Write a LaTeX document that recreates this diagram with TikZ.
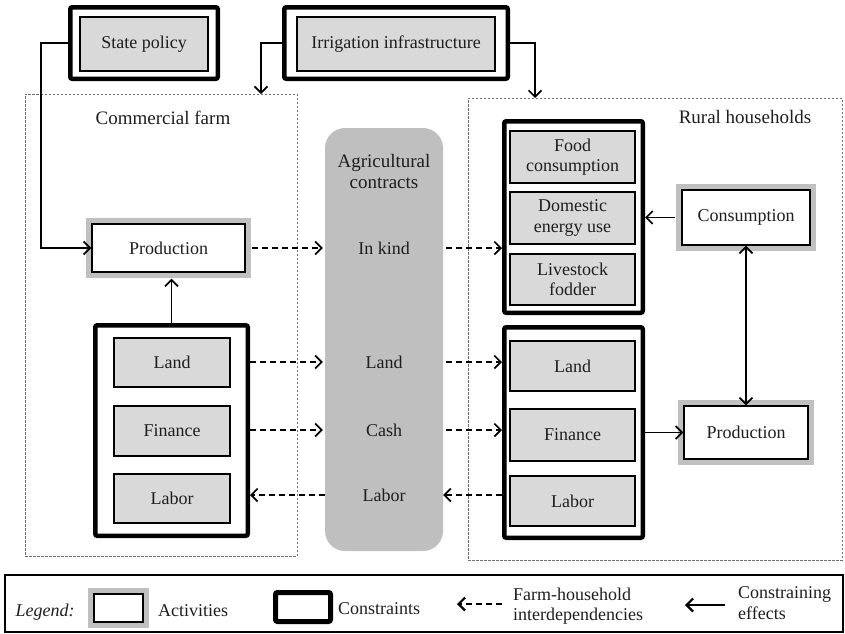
\documentclass[tikz,border=0pt]{standalone}
\usepackage{fontspec}
\setmainfont{Liberation Serif}
\usetikzlibrary{arrows.meta,calc}
\definecolor{itemgray}{RGB}{217,217,217}
\definecolor{actgray}{RGB}{192,192,192}
\definecolor{colgray}{RGB}{191,191,191}
\definecolor{boxgray}{RGB}{110,110,110}
\definecolor{txt}{RGB}{30,30,30}
\begin{document}
\begin{tikzpicture}[x=1pt,y=-1pt,
  every node/.style={font=\fontsize{18}{20.5}\selectfont, text=txt, inner sep=0pt, align=center},
  constraint/.style={draw=black, line width=4.5pt, rounded corners=2pt, fill=white},
  item/.style={draw=black, line width=1.1pt, fill=itemgray},
  activity/.style={draw=black, line width=1.4pt, fill=white, preaction={draw=actgray, line width=12pt}},
  region/.style={draw=boxgray, line width=1pt, dash pattern=on 2.5pt off 1.5pt},
  cons/.style={draw=black, line width=1.7pt, -{Straight Barb[length=6.5pt,width=13pt]}},
  inter/.style={draw=black, line width=1.7pt, dash pattern=on 6pt off 4pt, -{Straight Barb[length=6.5pt,width=13pt]}},
]
\useasboundingbox (0,0) rectangle (845,633);

% regions
\node[region, minimum width=272, minimum height=462] (cf) at (161,325) {};
\node[region, minimum width=374, minimum height=462] (rh) at (655,329) {};
\node[font=\fontsize{19}{22}\selectfont] (cflabel) at (163,118) {Commercial farm};
\node[font=\fontsize{19}{22}\selectfont] (rhlabel) at (745,117) {Rural households};

% contracts column
\node[fill=colgray, rounded corners=20pt, minimum width=118, minimum height=423] (contracts) at (384,339.5) {};
\node[font=\fontsize{19}{21}\selectfont] (agc) at (384,171) {Agricultural\\contracts};
\node (ck) at (384,248) {In kind};
\node (cland) at (384,362) {Land};
\node (ccash) at (384,430) {Cash};
\node (clabor) at (384,495) {Labor};

% top constraints
\node[constraint, minimum width=147.5, minimum height=71.5] (state) at (144,43) {};
\node[item, minimum width=128, minimum height=54] (statein) at (144,44) {State policy};
\node[constraint, minimum width=223.5, minimum height=71.5] (irr) at (396,43) {};
\node[item, minimum width=198, minimum height=54] (irrin) at (396,44) {Irrigation infrastructure};

% commercial farm
\node[activity, minimum width=153, minimum height=48] (prodL) at (168.5,248) {Production};
\node[constraint, minimum width=152.5, minimum height=210.5] (lgroup) at (171.5,430.5) {};
\node[item, minimum width=116, minimum height=49] (lland) at (172,362.5) {Land};
\node[item, minimum width=116, minimum height=50] (lfin) at (172,431) {Finance};
\node[item, minimum width=116, minimum height=49] (llab) at (172,498.5) {Labor};

% rural households
\node[constraint, minimum width=138.5, minimum height=191.5] (rup) at (573.5,217) {};
\node[item, minimum width=125, minimum height=52] (food) at (572.5,157) {Food\\consumption};
\node[item, minimum width=125, minimum height=52] (dom) at (572.5,218) {Domestic\\energy use};
\node[item, minimum width=125, minimum height=51] (live) at (572.5,279.5) {Livestock\\fodder};
\node[constraint, minimum width=138.5, minimum height=210.5] (rlow) at (573.5,432.5) {};
\node[item, minimum width=125, minimum height=50] (rland) at (572.5,366) {Land};
\node[item, minimum width=125, minimum height=52] (rfin) at (572.5,435) {Finance};
\node[item, minimum width=125, minimum height=50] (rlab) at (572.5,501) {Labor};
\node[activity, minimum width=128, minimum height=55] (cons) at (746,217.5) {Consumption};
\node[activity, minimum width=124, minimum height=53] (prodR) at (746,432.5) {Production};

% constraining effects
\coordinate (irrL) at (261,94);
\coordinate (irrR) at (535,98);
\draw[cons] (state.west) -- ++(-27,0) |- (prodL.west);
\draw[cons] (irr.west) -| (irrL);
\draw[cons] (irr.east) -| (irrR);
\draw[cons, shorten >=6pt] (lgroup.north) -- (lgroup.north |- prodL.south);
\draw[cons, shorten <=6pt] (cons.west) -- (cons.west -| rup.east);
\draw[cons] (rlow.east |- prodR) -- (prodR.west);
\draw[cons, {Straight Barb[length=6.5pt,width=13pt]}-{Straight Barb[length=6.5pt,width=13pt]}] (cons.south) -- (prodR.north);

% interdependencies
\draw[inter, shorten <=6pt, shorten >=2pt] (prodL.east) -- (prodL.east -| contracts.west);
\draw[inter, shorten <=3pt] (contracts.east |- ck) -- (ck -| rup.west);
\draw[inter, shorten >=2pt] (lgroup.east |- cland) -- (cland -| contracts.west);
\draw[inter, shorten >=2pt] (lgroup.east |- ccash) -- (ccash -| contracts.west);
\draw[inter] (clabor -| contracts.west) -- (clabor -| lgroup.east);
\draw[inter, shorten <=3pt] (contracts.east |- cland) -- (cland -| rlow.west);
\draw[inter, shorten <=3pt] (contracts.east |- ccash) -- (ccash -| rlow.west);
\draw[inter] (clabor -| rlow.west) -- (clabor -| contracts.east);

% legend
\node[draw=black, line width=1.5pt, minimum width=838, minimum height=57] (legend) at (424,603.5) {};
\node[font=\itshape\fontsize{18}{20}\selectfont] (legtitle) at (45,612) {Legend:};
\node[activity, minimum width=49, minimum height=28] (legact) at (118.5,608) {};
\node[anchor=west] (legactt) at (158,611) {Activities};
\node[constraint, line width=5pt, minimum width=55, minimum height=29] (legcon) at (303,607) {};
\node[anchor=west] (legcont) at (338,609) {Constraints};
\coordinate (ldA) at (502,604);
\coordinate (ldB) at (457,604);
\draw[inter, line width=2.2pt] (ldA) -- (ldB);
\node[anchor=west, align=left] (legintt) at (513,606) {Farm-household\\interdependencies};
\coordinate (lcA) at (725,605);
\coordinate (lcB) at (685,605);
\draw[cons, line width=2.2pt] (lcA) -- (lcB);
\node[anchor=west, align=left] (legconst) at (738,603) {Constraining\\effects};
\end{tikzpicture}
\end{document}
